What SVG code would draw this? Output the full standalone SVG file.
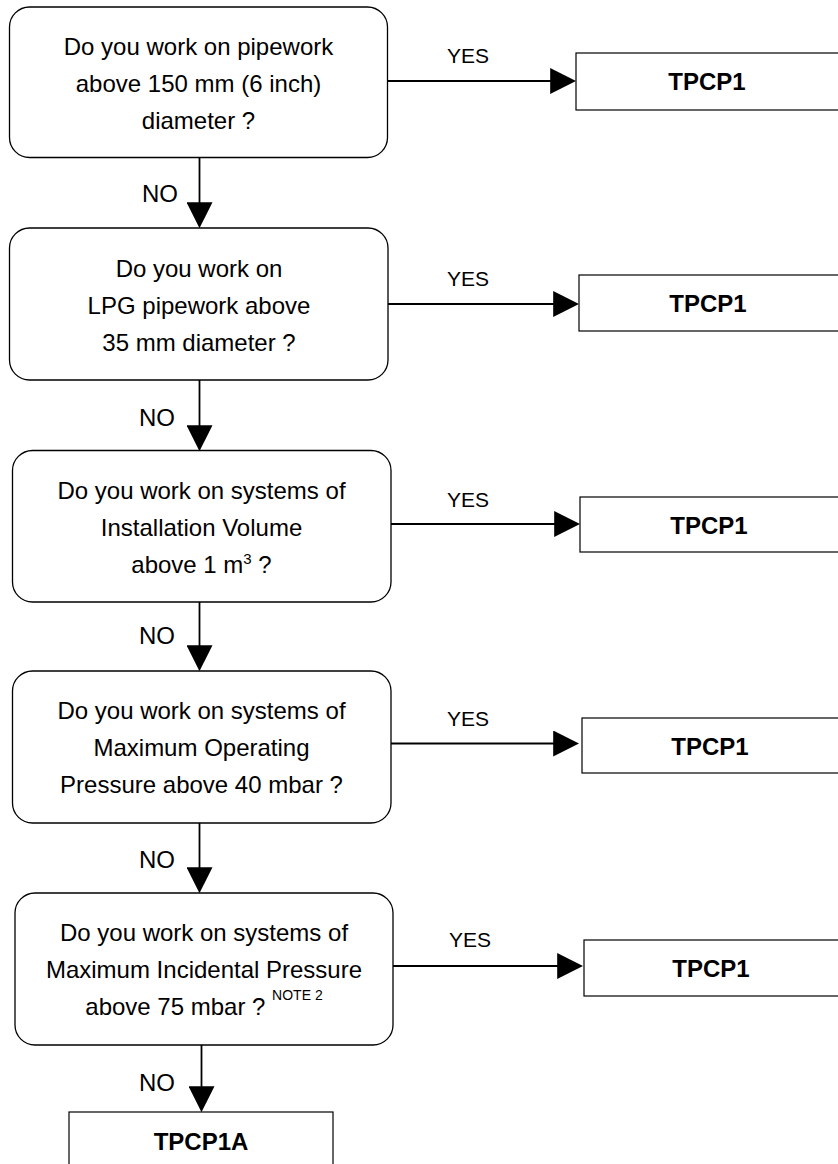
<svg xmlns="http://www.w3.org/2000/svg" width="838" height="1164" viewBox="0 0 838 1164">
<style>
.q{fill:#fff;stroke:#000;stroke-width:1.3}
.r{fill:#fff;stroke:#000;stroke-width:1.2}
.t{font-family:"Liberation Sans",Arial,sans-serif;font-size:24px;fill:#000;text-anchor:middle}
.y{font-family:"Liberation Sans",Arial,sans-serif;font-size:21px;fill:#000;text-anchor:middle}
.b{font-family:"Liberation Sans",Arial,sans-serif;font-size:24px;font-weight:bold;fill:#000;text-anchor:middle}
.c{stroke:#000;stroke-width:1.8;fill:none;marker-end:url(#ah)}
</style>
<defs>
<marker id="ah" markerUnits="userSpaceOnUse" markerWidth="26" markerHeight="26" viewBox="0 0 25 25" refX="21" refY="12.5" orient="auto">
<path d="M0,0 L25,12.5 L0,25 Z" fill="#000"/>
</marker>
</defs>
<g id="connectors">
<line class="c" x1="387.5" y1="81" x2="572" y2="81"/>
<line class="c" x1="388" y1="304" x2="575" y2="304"/>
<line class="c" x1="391" y1="524" x2="576" y2="524"/>
<line class="c" x1="391" y1="743.5" x2="575" y2="743.5"/>
<line class="c" x1="393" y1="966" x2="579" y2="966"/>
<line class="c" x1="199.5" y1="157.5" x2="199.5" y2="224"/>
<line class="c" x1="199.5" y1="380" x2="199.5" y2="447"/>
<line class="c" x1="199.5" y1="602" x2="199.5" y2="667"/>
<line class="c" x1="199.5" y1="823" x2="199.5" y2="889"/>
<line class="c" x1="201.5" y1="1045" x2="201.5" y2="1108"/>
<text class="y" x="468" y="63">YES</text>
<text class="y" x="468" y="286">YES</text>
<text class="y" x="468" y="507">YES</text>
<text class="y" x="468" y="726">YES</text>
<text class="y" x="470" y="947">YES</text>
<text class="t" x="160" y="202">NO</text>
<text class="t" x="157" y="426">NO</text>
<text class="t" x="157" y="644">NO</text>
<text class="t" x="157" y="868">NO</text>
<text class="t" x="157" y="1091">NO</text>
</g>
<g id="q1">
<rect class="q" x="9.5" y="7" width="378" height="150.5" rx="20"/>
<text class="t" x="198.5" y="55">Do you work on pipework</text>
<text class="t" x="198.5" y="92">above 150 mm (6 inch)</text>
<text class="t" x="198.5" y="129">diameter ?</text>
</g>
<g id="r1">
<rect class="r" x="576" y="53" width="266" height="57"/>
<text class="b" x="707" y="90">TPCP1</text>
</g>
<g id="q2">
<rect class="q" x="9.5" y="228" width="378.5" height="152" rx="20"/>
<text class="t" x="199" y="277">Do you work on</text>
<text class="t" x="199" y="314">LPG pipework above</text>
<text class="t" x="199" y="351">35 mm diameter ?</text>
</g>
<g id="r2">
<rect class="r" x="579" y="275" width="263" height="56"/>
<text class="b" x="708" y="312">TPCP1</text>
</g>
<g id="q3">
<rect class="q" x="12.5" y="450.5" width="378.5" height="151.5" rx="20"/>
<text class="t" x="201.5" y="499">Do you work on systems of</text>
<text class="t" x="201.5" y="536">Installation Volume</text>
<text class="t" x="201.5" y="573">above 1 m<tspan font-size="15" dy="-9">3</tspan><tspan dy="9"> ?</tspan></text>
</g>
<g id="r3">
<rect class="r" x="580" y="497" width="262" height="55"/>
<text class="b" x="709" y="534">TPCP1</text>
</g>
<g id="q4">
<rect class="q" x="12.5" y="671" width="378.5" height="152" rx="20"/>
<text class="t" x="201.5" y="719">Do you work on systems of</text>
<text class="t" x="201.5" y="756">Maximum Operating</text>
<text class="t" x="201.5" y="793">Pressure above 40 mbar ?</text>
</g>
<g id="r4">
<rect class="r" x="582" y="718" width="260" height="55"/>
<text class="b" x="710" y="755">TPCP1</text>
</g>
<g id="q5">
<rect class="q" x="15" y="893" width="378" height="152" rx="20"/>
<text class="t" x="204" y="941">Do you work on systems of</text>
<text class="t" x="204" y="978">Maximum Incidental Pressure</text>
<text class="t" x="204" y="1015">above 75 mbar ? <tspan font-size="14" dy="-15">NOTE 2</tspan></text>
</g>
<g id="r5">
<rect class="r" x="584" y="940" width="258" height="56"/>
<text class="b" x="711" y="977">TPCP1</text>
</g>
<g id="r6">
<rect class="r" x="69" y="1112" width="264" height="70"/>
<text class="b" x="201" y="1150">TPCP1A</text>
</g>
</svg>
